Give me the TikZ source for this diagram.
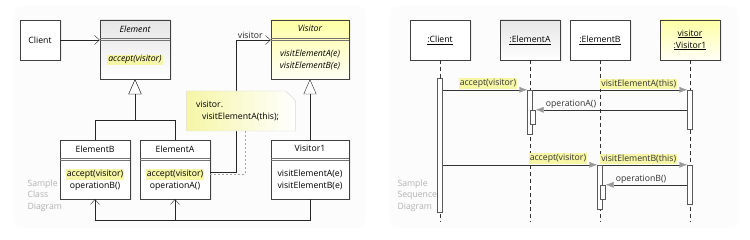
\documentclass[tikz,border=0pt]{standalone}
\usepackage{fontspec}
\setmainfont{Open Sans}
\usepackage{tikz}
\usetikzlibrary{arrows.meta, shapes.misc, shadows}
\definecolor{hlyellow}{HTML}{F6F6A6}
\newcommand{\hlt}[1]{{\setlength{\fboxsep}{1pt}\colorbox{hlyellow}{#1}}}

\begin{document}
\begin{tikzpicture}[x=1pt, y=-1pt,
  font=\fontsize{8.7}{12}\selectfont,
  box/.style={draw=black!75, fill=white, minimum width=40pt, minimum height=40pt, inner sep=0pt, drop shadow={opacity=0.12, shadow xshift=1.5pt, shadow yshift=-1.5pt}},
  classbox/.style={box, minimum width=70pt, minimum height=59pt},
  headbox/.style={box, minimum width=60pt, align=center},
  bar/.style={draw=black!65, fill=white, minimum width=5pt, inner sep=0pt},
  note/.style={chamfered rectangle, chamfered rectangle corners=north east, chamfered rectangle xsep=6pt, draw=gray!30, left color=hlyellow, right color=white, align=left, text width=90pt, minimum height=40pt},
  sample/.style={text=gray!60, align=left, font=\fontsize{8.7}{11.5}\selectfont, anchor=north west},
  open/.style={-{Straight Barb[length=5pt, width=9pt]}, black!85},
  inherit/.style={-{Triangle[open, length=15pt, width=13pt, fill=white]}, black!85},
  notelink/.style={gray!70, dash pattern=on 2pt off 2pt},
  lifeline/.style={black!80, dash pattern=on 4pt off 3pt},
  call/.style={-{Latex[length=8pt, width=6pt, color=gray!80]}, black!80},
  label/.style={inner sep=1pt}
]
  \useasboundingbox (0,0) rectangle (750,240);
  \fill[gray!2, rounded corners=8pt] (14,6) rectangle (366,228);
  \fill[gray!2, rounded corners=8pt] (390,6) rectangle (738,228);

  % class diagram
  \node[box] (client) at (40,40) {Client};
  \node[classbox, top color=gray!20, bottom color=white] (element) at (135,49.5) {};
  \node[classbox, minimum width=78pt, top color=yellow!35, bottom color=yellow!4] (visitor) at (310,49.5) {};
  \node[classbox] (elementb) at (95,169.5) {};
  \node[classbox] (elementa) at (175,169.5) {};
  \node[classbox, minimum width=78pt] (visitorone) at (310,169.5) {};

  \foreach \c in {element, visitor, elementb, elementa, visitorone} {
    \draw[black!55] ([yshift=-18pt]\c.north west) -- ([yshift=-18pt]\c.north east);
    \draw[black!55] ([yshift=-20.5pt]\c.north west) -- ([yshift=-20.5pt]\c.north east);
  }

  \node (elementname) at ([yshift=-9pt]element.north) {\itshape Element};
  \node (elementops) at ([yshift=-40pt]element.north) {\hlt{\itshape accept(visitor)}};
  \node (visitorname) at ([yshift=-9pt]visitor.north) {\itshape Visitor};
  \node[align=center] (visitorops) at ([yshift=-40pt]visitor.north) {\itshape visitElementA(e)\\\itshape visitElementB(e)};
  \node (elementbname) at ([yshift=-9pt]elementb.north) {ElementB};
  \node[align=center] (elementbops) at ([yshift=-40pt]elementb.north) {\hlt{accept(visitor)}\\operationB()};
  \node (elementaname) at ([yshift=-9pt]elementa.north) {ElementA};
  \node[align=center] (elementaops) at ([yshift=-40pt]elementa.north) {\hlt{accept(visitor)}\\operationA()};
  \node (visitoronename) at ([yshift=-9pt]visitorone.north) {Visitor1};
  \node[align=center] (visitoroneops) at ([yshift=-40pt]visitorone.north) {visitElementA(e)\\visitElementB(e)};

  \draw[open] (client.east) -- (client.east -| element.west);
  \draw[inherit] (elementb.north) -- ++(0,-20) -| (element.south);
  \draw[inherit] (elementa.north) -- ++(0,-20) -| (element.south);
  \draw[inherit] (visitorone.north) -- (visitor.south);
  \draw[open] (visitorone.south) -- ++(0,21) -| (elementb.south);
  \draw[open] (visitorone.south) -- ++(0,21) -| (elementa.south);
  \draw[open] ([yshift=-3pt]elementa.east) -- ++(26,0) |- ([yshift=9.5pt]visitor.west)
    node[pos=0.5, anchor=south west, inner sep=1.5pt] (visitorlabel) {visitor};

  \node[note] (notea) at (241,111) {visitor.\\\hspace*{6pt}visitElementA(this);};
  \draw[notelink] ([yshift=-4.5pt]elementa.east) -| ([xshift=4pt]notea.south);

  \node[sample] (classcaption) at (24,176) {Sample\\Class\\Diagram};

  % sequence diagram
  \node[headbox] (clienthead) at (440,40) {\underline{:Client}};
  \node[headbox, top color=gray!20, bottom color=white] (elementahead) at (530,40) {\underline{:ElementA}};
  \node[headbox] (elementbhead) at (600,40) {\underline{:ElementB}};
  \node[headbox, top color=yellow!35, bottom color=yellow!4] (visitorhead) at (690,40) {\underline{visitor}\\\underline{:Visitor1}};

  \foreach \h in {clienthead, elementahead, elementbhead, visitorhead}
    \draw[lifeline] (\h.south) -- ++(0,162);

  \node[bar, minimum height=134pt] (clientbar) at (440,145) {};
  \node[bar, minimum height=44pt] (abar) at (530,112) {};
  \node[bar, minimum height=14pt] (abarin) at (533,117) {};
  \node[bar, minimum height=39pt] (vbara) at (690,109.5) {};
  \node[bar, minimum height=44pt] (bbar) at (600,187) {};
  \node[bar, minimum height=14pt] (bbarin) at (603,192) {};
  \node[bar, minimum height=39pt] (vbarb) at (690,184.5) {};

  \draw[call] (clientbar.east |- abar.north) -- (abar.north west)
    node[label, pos=1, anchor=south east, xshift=-9pt] (acceptalabel) {\hlt{accept(visitor)}};
  \draw[call] (abar.north east) -- (vbara.north west)
    node[label, pos=1, anchor=south east, xshift=-9pt] (visitalabel) {\hlt{visitElementA(this)}};
  \draw[call] (vbara.west |- abarin.north) -- (abarin.north east)
    node[label, pos=1, anchor=south west, xshift=9pt] (opalabel) {operationA()};
  \draw[call] (clientbar.east |- bbar.north) -- (bbar.north west)
    node[label, pos=1, anchor=south east, xshift=-9pt] (acceptblabel) {\hlt{accept(visitor)}};
  \draw[call] (bbar.north east) -- (vbarb.north west)
    node[label, pos=1, anchor=south east, xshift=-9pt] (visitblabel) {\hlt{visitElementB(this)}};
  \draw[call] (vbarb.west |- bbarin.north) -- (bbarin.north east)
    node[label, pos=1, anchor=south west, xshift=9pt] (opblabel) {operationB()};

  \node[sample] (seqcaption) at (394,176) {Sample\\Sequence\\Diagram};
\end{tikzpicture}
\end{document}
